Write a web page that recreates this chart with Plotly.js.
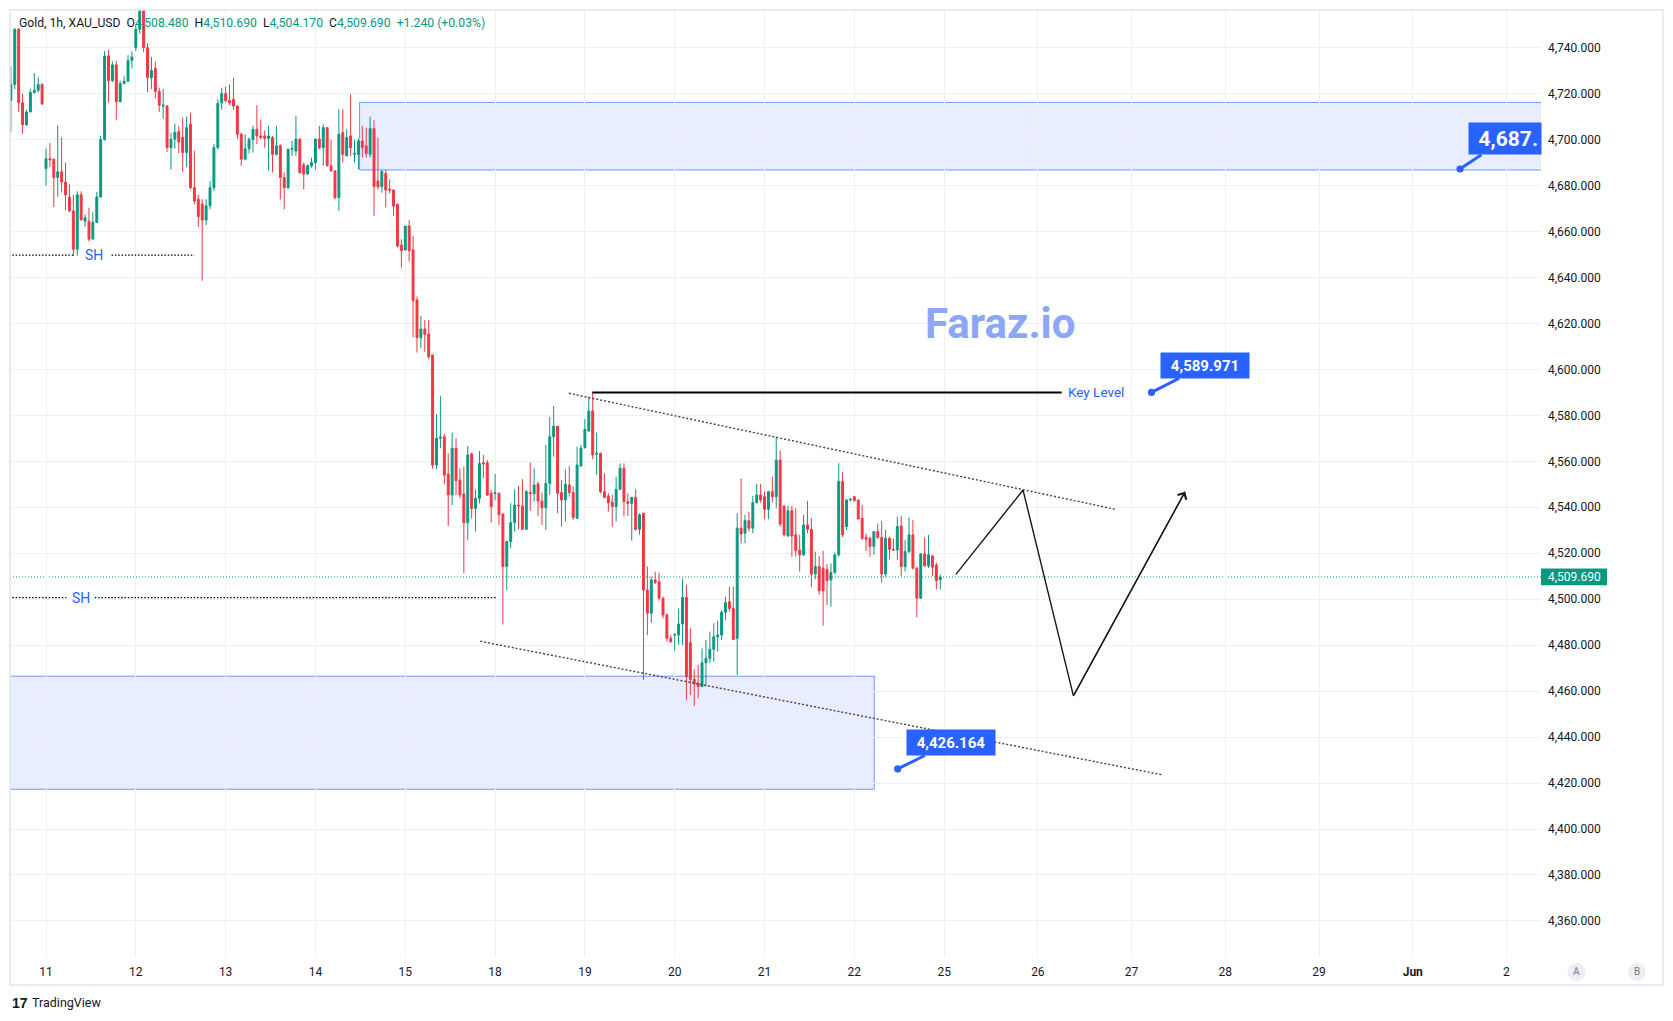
<!DOCTYPE html>
<html><head><meta charset="utf-8">
<script src="https://cdn.plot.ly/plotly-3.0.1.min.js"></script>
<style>html,body{margin:0;padding:0;background:#fff;}#chart{width:1673px;height:1021px;}</style>
</head><body><div id="chart"></div>
<script>
// ---------- DATA ----------
const firstBarIndex = -9; // hourly bars, index 0 = first bar of day 11
const barOpen = [
4717,4724,4748,4716,4706.5,4712,4720.5,4721.5,4724,
4687.4,4691.7,4691.5,4683.5,4686,4681.5,4675,4669,4652.3,4676,
4664.5,4664.5,4656.7,4664,4675,4700,4736.4,4725.7,4732.5,4716.5,
4724.4,4725.4,4734.4,4740,4748,4757,4740,4727,4731,4721,
4714.6,4714.6,4696.5,4700.2,4703.5,4701,4694.4,4706.7,4679.1,4674,
4672,4665,4671.2,4679.1,4696.5,4716,4720,4717,4717.5,4714.6,
4702.3,4691.5,4696,4700,4704.5,4701.6,4701.6,4700.5,4700.9,4693.6,
4697.3,4683.5,4679.1,4695.8,4695,4700.2,4689,4685,4688.6,4690,
4700.2,4696.5,4705.2,4688.6,4686.4,4674.8,4703,4692.9,4701.6,4693.6,
4693.6,4699.4,4697.3,4693.6,4704.8,4682,4679.5,4685.3,4678.4,4678.1,
4671.8,4654.1,4652,4662.4,4652,4630.2,4613.8,4617.6,4615.4,4606.3,
4558.4,4570,4570.7,4554.5,4545.4,4565.7,4551.9,4545.8,4533.3,4563.2,
4539.5,4543.9,4559.4,4559.4,4546.1,4546,4546.1,4537.1,4514.2,4525.1,
4533.3,4541,4540.6,4530.4,4546.4,4545.8,4550.2,4542.7,4539.8,4550.4,
4570.7,4575.3,4546.4,4543.2,4549.7,4546.4,4535.2,4558,4566,4573.2,
4581.9,4563.1,4563.5,4546.8,4544.9,4542.2,4540.3,4547.8,4557,4542.5,
4541.7,4544.3,4530.4,4537.4,4504,4493.9,4508.4,4507.6,4500.4,4493.1,
4483,4484.4,4484.4,4489.2,4500.8,4481.1,4465.1,4463.4,4462,4472.4,
4474.3,4478.2,4483.7,4484.4,4494.3,4498.9,4496,4483,4530.9,4528.7,
4534.2,4530.9,4542,4545.4,4544.6,4539.1,4546.8,4544.6,4560.6,4540.6,
4527.5,4538.5,4528,4521.4,4519.3,4532.3,4530.4,4511,4514.2,4513.5,
4513,4508.4,4511.6,4519.3,4551.2,4531.6,4543.2,4544.6,4543.2,4535.2,
4526.9,4526.5,4522.9,4529.4,4526.9,4511,4526.5,4521.7,4521.4,4531.9,
4514.2,4520.7,4528,4513.5,4500.4,4519.7,4514.5,4518.8,4514.9,4508.48];
const barHigh = [
4732,4748.5,4748.5,4720,4713,4722,4729,4727,4724.5,
4696,4698.5,4691.5,4706.2,4701,4690,4680.5,4676,4677.5,4677.5,
4667.5,4670.4,4668.4,4677.3,4701.6,4738.6,4739,4734,4734.3,4725.5,
4727.7,4736.7,4738.3,4750,4762,4764,4742,4736,4734,4722.6,
4722,4715,4703,4707,4706,4709.6,4710,4711.7,4695.1,4676,
4674,4674,4682,4698,4717.5,4722.6,4723,4724,4727,4715,
4703,4702.3,4701,4706,4715,4708.8,4704,4706,4701.6,4706,
4698,4685.7,4696,4699.5,4710.3,4700.5,4690,4689.3,4692.2,4700.5,
4706,4706.7,4705.5,4700,4686.4,4713.2,4713.2,4704.5,4719.8,4700,
4700.5,4706,4705.2,4710,4708.4,4700.9,4686.8,4687,4682.7,4678.1,
4672.3,4656.6,4662.4,4665,4658,4631.7,4623.3,4621.5,4621.5,4606.3,
4580.5,4588.4,4571.9,4563.5,4572.5,4570,4557,4557.7,4566.7,4563.8,
4547.8,4564.5,4562.8,4560.6,4547.5,4554.5,4546.4,4537.1,4525.5,4541.7,
4547.8,4549.3,4552.2,4547.5,4559.4,4557,4551.2,4546.4,4567.1,4579.4,
4584.1,4575.3,4551.9,4556.5,4558,4549,4566.4,4567.1,4578.3,4588.1,
4589.97,4572.5,4563.8,4554.8,4546.1,4545.4,4553.3,4559.1,4559.1,4546.1,
4544.6,4547.8,4537.4,4537.4,4514.2,4509.8,4512,4511.6,4501.1,4493.9,
4484.4,4485.2,4496,4508.7,4506.2,4487.3,4469.5,4471.4,4478.6,4482.3,
4485.9,4489.5,4490.7,4495.3,4501.1,4505.5,4505.5,4537.4,4552.6,4536.7,
4538.1,4544.9,4550.1,4550.2,4546.8,4547.2,4553.3,4570.7,4564.7,4540.6,
4540.6,4540.6,4539.6,4528,4536.7,4542.8,4535.2,4520.7,4518.8,4521,
4515.3,4515.6,4520.3,4559.1,4555.5,4543.5,4543.9,4544.9,4543.2,4541,
4528.7,4527.2,4529.4,4533,4534,4530.1,4527.2,4526.5,4535.9,4536.2,
4525.8,4535.6,4534.5,4514.2,4520,4526.9,4528,4519.3,4515.9,4510.69];
const barLow = [
4703,4722,4712,4702.5,4706,4712,4720,4720.5,4715,
4680,4688,4670.7,4675.2,4677,4669.3,4668.5,4649.4,4649.4,4665,
4662,4655.7,4656.5,4663.7,4674.8,4699.6,4716,4725,4708.4,4716.2,
4724,4725,4731,4738.6,4746,4738,4720.7,4722,4718,4712,
4709,4694.6,4687,4696,4694,4686,4688,4678.4,4671.9,4662,
4638.6,4662.8,4669.7,4677.7,4695.8,4713,4716,4715,4713,4700.2,
4688.6,4691,4694,4694.4,4698,4700.2,4696.5,4686.4,4685.7,4693,
4674,4669.7,4678.4,4692.9,4693,4685,4678.4,4684.5,4687.8,4687,
4695.8,4688.6,4688.4,4686,4674,4669,4690,4692.9,4692.9,4690,
4687.1,4692.2,4692.2,4692.2,4666.8,4678.4,4676.9,4670.5,4676.6,4666.8,
4653.1,4644.3,4651.7,4646.9,4614,4607.3,4609.2,4607.7,4604.4,4556.7,
4556.5,4565.7,4550,4531.9,4541,4545.4,4543.9,4511.3,4525.8,4535.2,
4529.4,4541.7,4552.6,4544.9,4533.3,4543,4532.3,4489,4504,4522.2,
4529.4,4530.4,4530.1,4530.1,4538.5,4542.5,4536.2,4532.3,4530.1,4545.4,
4562,4537.4,4531.6,4533.8,4544.6,4534.5,4535.2,4557.7,4565.5,4572.9,
4560.9,4554.1,4546.1,4543.9,4538.1,4531.6,4533.8,4547.5,4536,4536.2,
4525.5,4529.8,4528,4464.9,4484.4,4489.8,4506.6,4499.4,4491.7,4481.5,
4481,4477.6,4480.1,4480.1,4456.2,4458.3,4453.5,4456.9,4461.7,4462,
4472.1,4472.8,4477.2,4482.3,4491,4494.6,4482.3,4467,4524.3,4524.3,
4529.4,4528.7,4541.7,4542,4534.8,4534.8,4542,4539.6,4531.6,4527.2,
4527.2,4518.5,4518.5,4512,4518.8,4528.7,4505.2,4508.7,4501.9,4488.5,
4497.5,4496.8,4511,4518.5,4527,4530.1,4542.5,4542.5,4534.8,4525.8,
4521,4518.5,4519.3,4526.1,4507.2,4509.8,4517.4,4521.1,4517.1,4510.1,
4512,4520,4513,4492.1,4500.4,4514.2,4513.5,4510.1,4504.3,4504.17];
const barClose = [
4724,4748,4716,4706.5,4712,4720.5,4721.5,4724,4715.5,
4691.7,4691.2,4683.5,4686,4681.5,4676,4669,4652.3,4676,4665,
4666,4656.7,4664,4675,4700,4736.4,4725.7,4732.5,4716.5,4724.4,
4725.4,4734.4,4736,4748,4757,4740,4727,4730,4721,4715,
4715,4696.5,4700.2,4703.2,4699,4694.4,4705.2,4679.1,4673.3,4666.5,
4665,4671.2,4679.1,4696.5,4715.8,4720,4717,4716,4714.6,4702.3,
4691.5,4696,4700,4704.5,4701.6,4700.9,4700.5,4701.6,4693.6,4697.3,
4683.5,4679.1,4695.8,4696.2,4700.2,4685.7,4685,4688.6,4690,4700.2,
4696.5,4705.2,4688.6,4686.4,4674.8,4702.3,4693.6,4700.9,4696.5,4694,
4699.4,4696.5,4694,4704.8,4679.6,4679.5,4686.1,4678.1,4678,4671.1,
4653.7,4651.7,4662.4,4651.7,4629.9,4613.8,4617.6,4615.3,4605.5,4558.4,
4570,4570.5,4554,4545.4,4565.7,4551.6,4545.4,4533.3,4562.8,4539.5,
4543.9,4559.1,4558.8,4545.4,4540.3,4546.4,4536.7,4514.2,4525.1,4533.3,
4541,4540.6,4530.4,4546.8,4546,4549.7,4542.7,4539.8,4550.4,4570.7,
4575.3,4546.1,4543.2,4550,4546.4,4535.6,4558.4,4565.7,4573.9,4581.9,
4562.8,4563.5,4546.8,4544.3,4542,4540.3,4547.8,4557,4542.5,4541.7,
4544.3,4530.4,4536.7,4504,4493.9,4508.4,4507.2,4500.4,4493.1,4483,
4481.5,4484.5,4489.2,4500.8,4466.3,4465.1,4463.1,4462,4472.4,4474.3,
4478.2,4483.7,4484.4,4494.3,4498.5,4496,4482.5,4530.9,4528.4,4534.2,
4530.9,4542,4545.4,4543.2,4539.1,4546.8,4544.6,4560.6,4532.7,4528,
4538.5,4527.5,4521.1,4519.3,4532.3,4530.4,4511,4514.2,4503.7,4503.7,
4508.1,4511.6,4519.3,4551.2,4528,4543.2,4543.5,4542.9,4534.9,4526.5,
4526.1,4522.9,4529.4,4526.9,4511,4526.5,4521.7,4521.4,4531.6,4514.2,
4520.7,4528,4513.5,4500.4,4519.7,4514.5,4519.3,4513.9,4508.1,4509.69];

const dayTickIndex  = [0,23,46,69,92,115,138,161,184,207,230,254,278,302,326,350,374];
const dayTickLabels = ['11','12','13','14','15','18','19','20','21','22','25','26','27','28','29','<b>Jun</b>','2'];

const upperZonePrice = [4686.8, 4716.2];
const upperZoneFromBar = 80.3;
const lowerZonePrice = [4417.3, 4466.5];
const lowerZoneToBar = 212.1;
const keyLevelPrice = 4589.971;
const keyLevelBars = [139.9, 260.1];
const swingHighPrices = [4649.7, 4500.7];
const swingHighSegments = [[[-12, 7.4], [16.8, 38.0]], [[-12, 5.2], [12.5, 115.2]]];
const swingHighLabelBars = [12.3, 8.9];
const upperTrendBars = [133.9, 274.2];
const upperTrendPrices = [4589.6, 4539.0];
const lowerTrendBars = [111.2, 286.1];
const lowerTrendPrices = [4481.7, 4423.5];
const projectionBars = [233.0, 250.2, 263.1, 291.7];
const projectionPrices = [4510.8, 4547.5, 4457.9, 4546.8];
const calloutBars = [283.1, 218.1, 362.1];
const calloutPrices = [4589.971, 4426.164, 4687.2];
const calloutLabels = ['4,589.971', '4,426.164', '4,687.'];
const lastPrice = 4509.69;
const headerText = 'Gold, 1h, XAU_USD';
const headerOHLC = [['O','4,508.480'],['H','4,510.690'],['L','4,504.170'],['C','4,509.690']];
const headerChange = '+1.240 (+0.03%)';
const watermarkText = 'Faraz.io';

// ---------- CHART ----------
const UP = '#089981', DOWN = '#f23645', BLUE = '#2962ff', GRID = '#eef0f3';
const FONT = 'Roboto, "Liberation Sans", sans-serif';
const barIndex = barOpen.map((_, k) => firstBarIndex + k);

// plot box in pixels: x 10..1541, y 10..957
const L = 10, R = 1541, T = 10, B = 957;
const px2paperX = p => (p - L) / (R - L);
const px2paperY = p => (B - p) / (B - T);

const traces = [
  {
    type: 'candlestick', x: barIndex,
    open: barOpen, high: barHigh, low: barLow, close: barClose,
    increasing: {line: {color: UP, width: 1}, fillcolor: UP},
    decreasing: {line: {color: DOWN, width: 1}, fillcolor: DOWN},
    whiskerwidth: 0, hoverinfo: 'skip'
  },
  {
    type: 'scatter', mode: 'lines', x: projectionBars, y: projectionPrices,
    line: {color: '#131722', width: 1.4}, hoverinfo: 'skip'
  }
];

const shapes = [];
// zones
shapes.push({type: 'rect', xref: 'x', yref: 'y', x0: upperZoneFromBar, x1: 420,
  y0: upperZonePrice[0], y1: upperZonePrice[1], layer: 'below',
  fillcolor: 'rgba(41,98,255,0.11)', line: {color: 'rgba(41,98,255,0.65)', width: 1}});
shapes.push({type: 'rect', xref: 'x', yref: 'y', x0: -30, x1: lowerZoneToBar,
  y0: lowerZonePrice[0], y1: lowerZonePrice[1], layer: 'below',
  fillcolor: 'rgba(41,98,255,0.11)', line: {color: 'rgba(41,98,255,0.65)', width: 1}});
// last price line
shapes.push({type: 'line', xref: 'paper', yref: 'y', x0: 0, x1: 1, y0: lastPrice, y1: lastPrice,
  layer: 'below', line: {color: UP, width: 1, dash: '1px,2px'}});
// swing high lines
swingHighPrices.forEach((p, k) => {
  swingHighSegments[k].forEach(seg => {
    shapes.push({type: 'line', xref: 'x', yref: 'y', x0: seg[0], x1: seg[1], y0: p, y1: p,
      line: {color: '#000', width: 1.2, dash: '1.5px,1.8px'}});
  });
});
// key level
shapes.push({type: 'line', xref: 'x', yref: 'y', x0: keyLevelBars[0], x1: keyLevelBars[1],
  y0: keyLevelPrice, y1: keyLevelPrice, line: {color: '#000', width: 2}});
// trend lines
shapes.push({type: 'line', xref: 'x', yref: 'y', x0: upperTrendBars[0], x1: upperTrendBars[1],
  y0: upperTrendPrices[0], y1: upperTrendPrices[1], line: {color: '#3f424b', width: 1.4, dash: '2px,2px'}});
shapes.push({type: 'line', xref: 'x', yref: 'y', x0: lowerTrendBars[0], x1: lowerTrendBars[1],
  y0: lowerTrendPrices[0], y1: lowerTrendPrices[1], line: {color: '#3f424b', width: 1.4, dash: '2px,2px'}});
// price tag on axis
shapes.push({type: 'rect', xref: 'paper', yref: 'y', x0: 1, x1: px2paperX(1607),
  y0: lastPrice - 3.65, y1: lastPrice + 3.65, fillcolor: UP, line: {width: 0}});
// outer frame
shapes.push({type: 'rect', xref: 'paper', yref: 'paper', x0: 0, x1: px2paperX(1663),
  y0: px2paperY(985), y1: 1, line: {color: '#e3e5ea', width: 1.5}, fillcolor: 'rgba(0,0,0,0)'});
// A / B buttons
[1576.5, 1637].forEach(cx => {
  shapes.push({type: 'circle', xref: 'paper', yref: 'paper', xsizemode: 'pixel', ysizemode: 'pixel',
    xanchor: px2paperX(cx), yanchor: px2paperY(972), x0: -9, x1: 9, y0: -9, y1: 9,
    fillcolor: '#eceef3', line: {width: 0}});
});

const annotations = [];
// header
let hdr = '<span style="color:#131722">' + headerText + '</span>';
headerOHLC.forEach(([k, v]) => {
  hdr += '\u00a0\u00a0<span style="color:#131722">' + k + '</span><span style="color:' + UP + '">' + v + '</span>';
});
hdr += '\u00a0\u00a0<span style="color:' + UP + '">' + headerChange + '</span>';
annotations.push({xref: 'paper', yref: 'paper', x: px2paperX(17), y: px2paperY(23.5),
  xanchor: 'left', yanchor: 'middle', text: hdr, showarrow: false, font: {family: FONT, size: 12.2}});
// watermark
annotations.push({xref: 'x', yref: 'y', x: 244.3, y: 4620, text: '<b>' + watermarkText + '</b>',
  xanchor: 'center', yanchor: 'middle',
  showarrow: false, font: {family: FONT, size: 42, color: '#8ca7f7'}});
// SH labels
swingHighPrices.forEach((p, k) => {
  annotations.push({xref: 'x', yref: 'y', x: swingHighLabelBars[k], y: p, text: 'SH', showarrow: false,
    xanchor: 'center', yanchor: 'middle', font: {family: FONT, size: 14, color: BLUE}});
});
// key level text
annotations.push({xref: 'x', yref: 'y', x: 261.2, y: keyLevelPrice, text: 'Key Level', showarrow: false,
  xanchor: 'left', yanchor: 'middle', font: {family: FONT, size: 13.5, color: BLUE}});
// callouts
const calloutGeom = [
  {ax: 53, ay: -27, w: 80, h: 17, pad: 4, size: 15, align: 'center'},
  {ax: 53.5, ay: -26.4, w: 80, h: 17, pad: 4, size: 15, align: 'center'},
  {ax: 45.2, ay: -30.3, w: 66, h: 25, pad: 3, size: 21, align: 'right'}
];
calloutBars.forEach((b, k) => {
  const g = calloutGeom[k];
  annotations.push({xref: 'x', yref: 'y', x: b, y: calloutPrices[k], text: '<b>' + calloutLabels[k] + '</b>',
    showarrow: true, ax: g.ax, ay: g.ay, arrowcolor: BLUE, arrowwidth: 3, arrowhead: 6, arrowsize: 0.6,
    standoff: 0, bgcolor: BLUE, borderpad: g.pad, width: g.w, height: g.h, align: g.align,
    font: {family: FONT, size: g.size, color: '#fff'}});
});
// projection arrow head
annotations.push({xref: 'x', yref: 'y', axref: 'x', ayref: 'y', x: projectionBars[3], y: projectionPrices[3],
  ax: projectionBars[2], ay: projectionPrices[2], text: '', showarrow: true, arrowhead: 4,
  arrowsize: 1.6, arrowwidth: 1.2, arrowcolor: '#131722', standoff: 0});
// last price tag text
annotations.push({xref: 'paper', yref: 'y', x: px2paperX(1574), y: lastPrice, text: '4,509.690',
  xanchor: 'center', yanchor: 'middle',
  showarrow: false, font: {family: FONT, size: 12, color: '#fff'}});
// A / B
[['A', 1576.5], ['B', 1637]].forEach(([t, cx]) => {
  annotations.push({xref: 'paper', yref: 'paper', x: px2paperX(cx), y: px2paperY(972), text: t,
    xanchor: 'center', yanchor: 'middle',
    showarrow: false, font: {family: FONT, size: 10, color: '#787b86'}});
});
// TradingView logo
annotations.push({xref: 'paper', yref: 'paper', x: px2paperX(10), y: px2paperY(1003), xanchor: 'left', yanchor: 'middle',
  text: '<b>17</b>', showarrow: false, font: {family: '"Liberation Sans", sans-serif', size: 14, color: '#131722'}});
annotations.push({xref: 'paper', yref: 'paper', x: px2paperX(30), y: px2paperY(1003), xanchor: 'left', yanchor: 'middle',
  text: 'TradingView', showarrow: false, font: {family: FONT, size: 12.5, color: '#131722'}});

const layout = {
  width: 1673, height: 1021,
  margin: {l: L, r: 1673 - R, t: T, b: 1021 - B, pad: 0},
  paper_bgcolor: '#fff', plot_bgcolor: '#fff',
  showlegend: false, hovermode: false,
  xaxis: {range: [-9.22, 382.84], tickvals: dayTickIndex, ticktext: dayTickLabels,
    showgrid: true, gridcolor: GRID, gridwidth: 1, zeroline: false, showline: false, ticks: '',
    ticklabelstandoff: 6, tickfont: {family: FONT, size: 12, color: '#131722'},
    rangeslider: {visible: false}, fixedrange: true},
  yaxis: {range: [4344.3, 4756.4], side: 'right', tick0: 0, dtick: 20, tickformat: ',.3f',
    showgrid: true, gridcolor: GRID, gridwidth: 1, zeroline: false, showline: false, ticks: '',
    ticklabelstandoff: 6, tickfont: {family: FONT, size: 12, color: '#131722'}, fixedrange: true},
  shapes: shapes, annotations: annotations
};

Plotly.newPlot('chart', traces, layout, {displayModeBar: false, staticPlot: true});
</script></body></html>
